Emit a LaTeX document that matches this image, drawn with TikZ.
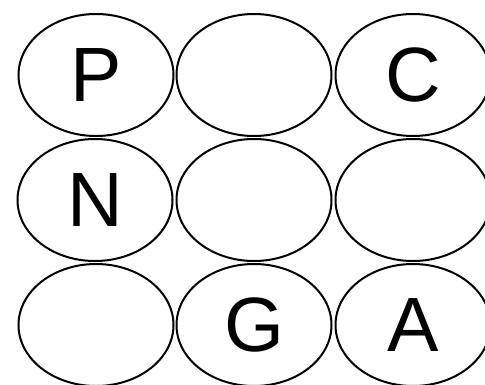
\documentclass[tikz,border=0pt]{standalone}
\usepackage{fontspec}
\setmainfont{Liberation Sans}
\usetikzlibrary{shapes.geometric}

\begin{document}
\begin{tikzpicture}[x=1pt, y=-1pt, line width=2pt,
    cell/.style={draw, ellipse, minimum width=155pt, minimum height=122pt,
      inner sep=0pt, font=\fontsize{77}{80}\selectfont}]
    \clip (0,0) rectangle (485,384);
    % Top row
    \node[cell] (p) at (96,75) {P};
    \node[cell] (topmid) at (254,75) {};
    \node[cell] (c) at (413,75) {C};
    % Middle row
    \node[cell] (n) at (95,200) {N};
    \node[cell] (centre) at (254,200) {};
    \node[cell] (midright) at (413,200) {};
    % Bottom row
    \node[cell] (botleft) at (96,325) {};
    \node[cell] (g) at (254,325) {G};
    \node[cell] (a) at (413,325) {A};
\end{tikzpicture}
\end{document}
